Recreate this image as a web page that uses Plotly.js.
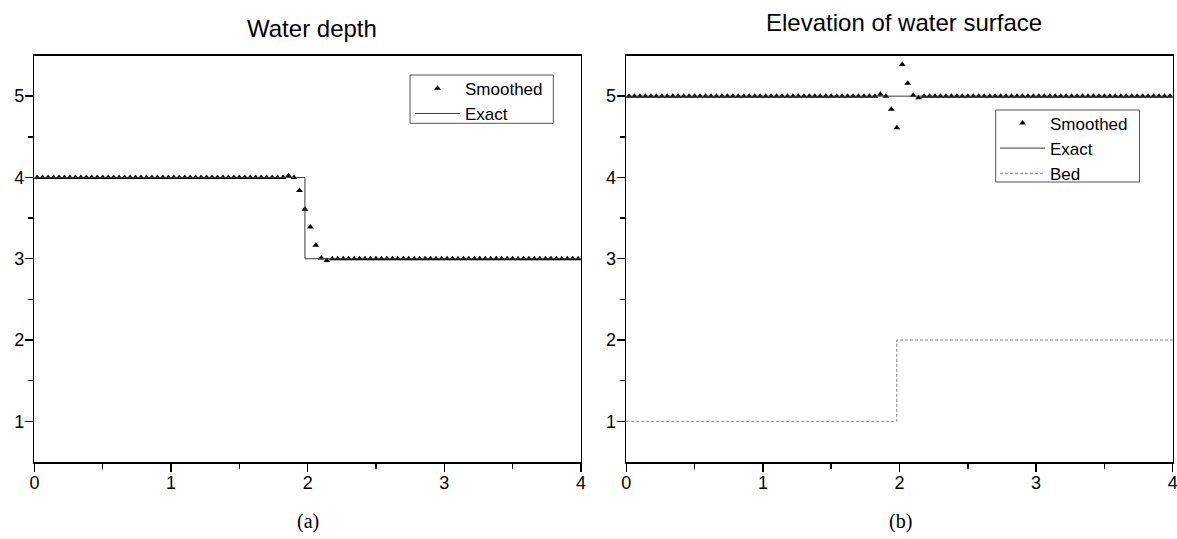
<!DOCTYPE html>
<html>
<head>
<meta charset="utf-8">
<script src="https://cdn.plot.ly/plotly-3.0.1.min.js"></script>
<style>
  html, body { margin: 0; padding: 0; background: #fff; }
  #chart { width: 1177px; height: 539px; }
</style>
</head>
<body>
<div id="chart"></div>
<script>
// Particle positions (x) of the smoothed solution
const xSmoothed = [
  0.02,0.06,0.10,0.14,0.18,0.22,0.26,0.30,0.34,0.38,
  0.42,0.46,0.50,0.54,0.58,0.62,0.66,0.70,0.74,0.78,
  0.82,0.86,0.90,0.94,0.98,1.02,1.06,1.10,1.14,1.18,
  1.22,1.26,1.30,1.34,1.38,1.42,1.46,1.50,1.54,1.58,
  1.62,1.66,1.70,1.74,1.78,1.82,1.86,1.90,1.94,1.98,
  2.02,2.06,2.10,2.14,2.18,2.22,2.26,2.30,2.34,2.38,
  2.42,2.46,2.50,2.54,2.58,2.62,2.66,2.70,2.74,2.78,
  2.82,2.86,2.90,2.94,2.98,3.02,3.06,3.10,3.14,3.18,
  3.22,3.26,3.30,3.34,3.38,3.42,3.46,3.50,3.54,3.58,
  3.62,3.66,3.70,3.74,3.78,3.82,3.86,3.90,3.94,3.98
];

// (a) Water depth - smoothed
const depthSmoothed = [
  4,4,4,4,4,4,4,4,4,4,
  4,4,4,4,4,4,4,4,4,4,
  4,4,4,4,4,4,4,4,4,4,
  4,4,4,4,4,4,4,4,4,4,
  4,4,4,4,4,4,4.02,4.0,3.84,3.61,
  3.39,3.165,3.01,2.98,3.0,3,3,3,3,3,
  3,3,3,3,3,3,3,3,3,3,
  3,3,3,3,3,3,3,3,3,3,
  3,3,3,3,3,3,3,3,3,3,
  3,3,3,3,3,3,3,3,3,3
];

// (b) Elevation of water surface - smoothed
const surfaceSmoothed = [
  5,5,5,5,5,5,5,5,5,5,
  5,5,5,5,5,5,5,5,5,5,
  5,5,5,5,5,5,5,5,5,5,
  5,5,5,5,5,5,5,5,5,5,
  5,5,5,5,5,5,5.025,5.0,4.84,4.61,
  5.39,5.16,5.01,4.98,5.0,5,5,5,5,5,
  5,5,5,5,5,5,5,5,5,5,
  5,5,5,5,5,5,5,5,5,5,
  5,5,5,5,5,5,5,5,5,5,
  5,5,5,5,5,5,5,5,5,5
];

// Exact solutions
const xExact = [0, 1.98, 1.98, 4];
const depthExact = [4, 4, 3, 3];
const xSurfaceExact = [0, 4];
const surfaceExact = [5, 5];
const xBed = [0, 1.98, 1.98, 4];
const bed = [1, 1, 2, 2];

const titleA = "Water depth";
const titleB = "Elevation of water surface";
const tickVals = [0, 1, 2, 3, 4];
const yTickVals = [1, 2, 3, 4, 5];

const SANS = "Liberation Sans, Arial, sans-serif";
const SERIF = "Liberation Serif, Times New Roman, serif";

const W = 1177, H = 539;
const px = v => v / W;
const py = v => 1 - v / H;

const markerStyle = { symbol: "triangle-up", size: 6, color: "#000" };
const exactLine = { color: "#3a3a3a", width: 1 };
const bedLine = { color: "#808080", width: 1, dash: "3px,2px" };

const data = [
  { x: xSmoothed, y: depthSmoothed, type: "scatter", mode: "markers", name: "Smoothed",
    marker: markerStyle, xaxis: "x", yaxis: "y", legend: "legend" },
  { x: xExact, y: depthExact, type: "scatter", mode: "lines", name: "Exact",
    line: exactLine, xaxis: "x", yaxis: "y", legend: "legend" },
  { x: xSmoothed, y: surfaceSmoothed, type: "scatter", mode: "markers", name: "Smoothed",
    marker: markerStyle, xaxis: "x2", yaxis: "y2", legend: "legend2" },
  { x: xSurfaceExact, y: surfaceExact, type: "scatter", mode: "lines", name: "Exact",
    line: exactLine, xaxis: "x2", yaxis: "y2", legend: "legend2" },
  { x: xBed, y: bed, type: "scatter", mode: "lines", name: "Bed",
    line: bedLine, xaxis: "x2", yaxis: "y2", legend: "legend2" }
];

function xAxis(domain, anchor) {
  return {
    domain: domain, anchor: anchor, range: [0, 4],
    tickvals: tickVals, ticktext: tickVals.map(String),
    ticks: "outside", ticklen: 8, tickwidth: 1.5, tickcolor: "#000",
    minor: { tickvals: [0.5, 1.5, 2.5, 3.5], ticks: "outside", ticklen: 5, tickwidth: 1.5, tickcolor: "#000" },
    showline: true, linecolor: "#000", linewidth: 1.6, mirror: true,
    showgrid: false, zeroline: false,
    ticklabeloverflow: "allow", ticklabelstandoff: -4,
    tickfont: { family: SANS, size: 18, color: "#000" }
  };
}
function yAxis(domain, anchor) {
  return {
    domain: domain, anchor: anchor, range: [0.5, 5.5],
    tickvals: yTickVals, ticktext: yTickVals.map(String),
    ticks: "outside", ticklen: 8, tickwidth: 1.5, tickcolor: "#000",
    minor: { tickvals: [1.5, 2.5, 3.5, 4.5], ticks: "outside", ticklen: 5, tickwidth: 1.5, tickcolor: "#000" },
    showline: true, linecolor: "#000", linewidth: 1.6, mirror: true,
    showgrid: false, zeroline: false,
    ticklabelstandoff: -3,
    tickfont: { family: SANS, size: 18, color: "#000" }
  };
}

const yDom = [0.1429, 0.8970];
const legendCommon = {
  xanchor: "left", yanchor: "top",
  bgcolor: "rgba(0,0,0,0)", bordercolor: "rgba(0,0,0,0)", borderwidth: 1,
  font: { family: SANS, size: 17, color: "#000" },
  itemwidth: 45, tracegroupgap: 0
};

const boxStyle = { type: "rect", xref: "paper", yref: "paper", layer: "below",
  line: { color: "#555", width: 1 }, fillcolor: "#fff" };

const layout = {
  width: W, height: H,
  margin: { l: 0, r: 0, t: 0, b: 0 },
  paper_bgcolor: "#fff", plot_bgcolor: "#fff",
  showlegend: true,
  xaxis: xAxis([0.02923, 0.49354], "y"),
  yaxis: yAxis(yDom, "x"),
  xaxis2: xAxis([0.53211, 0.99635], "y2"),
  yaxis2: yAxis(yDom, "x2"),
  legend: Object.assign({}, legendCommon, { x: px(409), y: py(69.8) }),
  legend2: Object.assign({}, legendCommon, { x: px(994), y: py(104.5) }),
  shapes: [
    Object.assign({}, boxStyle, { x0: px(410), x1: px(553.3), y0: py(123.3), y1: py(75) }),
    Object.assign({}, boxStyle, { x0: px(995.7), x1: px(1139.5), y0: py(182), y1: py(110) })
  ],
  annotations: [
    { text: titleA, xref: "paper", yref: "paper", x: px(312), y: py(28),
      xanchor: "center", yanchor: "middle", showarrow: false,
      font: { family: SANS, size: 24, color: "#000" } },
    { text: titleB, xref: "paper", yref: "paper", x: px(903.5), y: py(22),
      xanchor: "center", yanchor: "middle", showarrow: false,
      font: { family: SANS, size: 24, color: "#000" } },
    { text: "(a)", xref: "paper", yref: "paper", x: px(308), y: py(521),
      xanchor: "center", yanchor: "middle", showarrow: false,
      font: { family: SERIF, size: 20, color: "#000" } },
    { text: "(b)", xref: "paper", yref: "paper", x: px(900), y: py(521),
      xanchor: "center", yanchor: "middle", showarrow: false,
      font: { family: SERIF, size: 20, color: "#000" } }
  ]
};

Plotly.newPlot("chart", data, layout, { displayModeBar: false, staticPlot: true });
</script>
</body>
</html>
